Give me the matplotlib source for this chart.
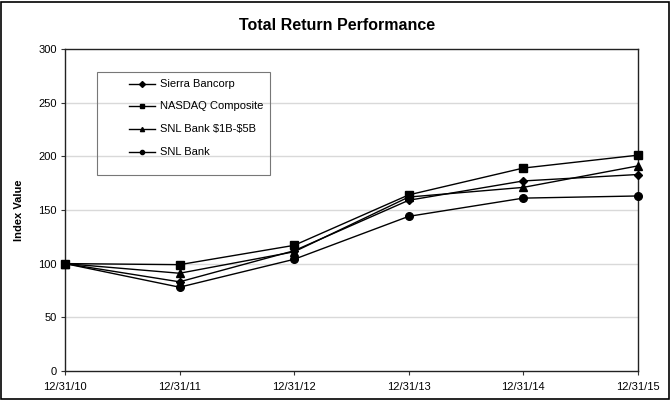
import matplotlib
matplotlib.use("Agg")
import matplotlib.pyplot as plt
from matplotlib.lines import Line2D
from matplotlib.patches import Rectangle

plt.rcParams['font.family'] = ['Liberation Sans', 'DejaVu Sans']

dates = ["12/31/10", "12/31/11", "12/31/12", "12/31/13", "12/31/14", "12/31/15"]
sierra = [100, 83, 112, 159, 177, 183]
nasdaq = [100, 99, 117, 164, 189, 201]
snl_1b5b = [100, 91, 111, 162, 171, 191]
snl_bank = [100, 78, 104, 144, 161, 163]

series = [
    ("Sierra Bancorp", sierra, "D", 4.5),
    ("NASDAQ Composite", nasdaq, "s", 5.5),
    (r"SNL Bank \$1B-\$5B", snl_1b5b, "^", 6),
    ("SNL Bank", snl_bank, "o", 5.5),
]

W, H = 670, 401
fig = plt.figure(figsize=(W / 100, H / 100), dpi=100)
ax = fig.add_axes([0.097, 0.075, 0.855, 0.803])

x = list(range(len(dates)))
for name, vals, mk, ms in series:
    ax.plot(x, vals, color="black", lw=1.0, marker=mk, markersize=ms,
            markerfacecolor="black", markeredgecolor="black", clip_on=False, zorder=3)

ax.set_xlim(0, len(dates) - 1)
ax.set_ylim(0, 300)
ax.set_yticks(range(0, 301, 50))
ax.set_xticks(x)
ax.set_xticklabels(dates)
ax.tick_params(axis="both", labelsize=8, length=3, width=0.8, color="#333333", pad=3)
ax.tick_params(axis="x", pad=5)
for y in range(50, 300, 50):
    ax.axhline(y, color="#d9d9d9", lw=1.0, zorder=1)
for s in ax.spines.values():
    s.set_color("#222222")
    s.set_linewidth(1.0)

ax.set_ylabel("Index Value", fontsize=8, fontweight="bold", labelpad=10)

fig.text(0.503, 0.937, "Total Return Performance", ha="center", va="center",
         fontsize=11.5, fontweight="bold")

# legend drawn manually in figure pixel coordinates (converted to fractions)
def fx(px):
    return px / W

def fy(py):
    return 1 - py / H

fig.patches.append(Rectangle((fx(97), fy(175)), fx(270) - fx(97), fy(72) - fy(175),
                             transform=fig.transFigure, fill=False,
                             edgecolor="#777777", lw=0.8, zorder=5))
rows = [84, 106, 129, 152]
for (name, _, mk, _), ry in zip(series, rows):
    fig.lines.append(Line2D([fx(129), fx(155)], [fy(ry), fy(ry)], transform=fig.transFigure,
                            color="black", lw=1.0))
    fig.lines.append(Line2D([fx(142)], [fy(ry)], transform=fig.transFigure,
                            color="black", marker=mk, markersize=3, markerfacecolor="black"))
    fig.text(fx(159.5), fy(ry), name, ha="left", va="center", fontsize=8)

fig.patches.append(Rectangle((0.002, 0.004), 0.996, 0.992, transform=fig.transFigure,
                             fill=False, edgecolor="black", lw=1.2))

fig.savefig("out.png", dpi=100)
